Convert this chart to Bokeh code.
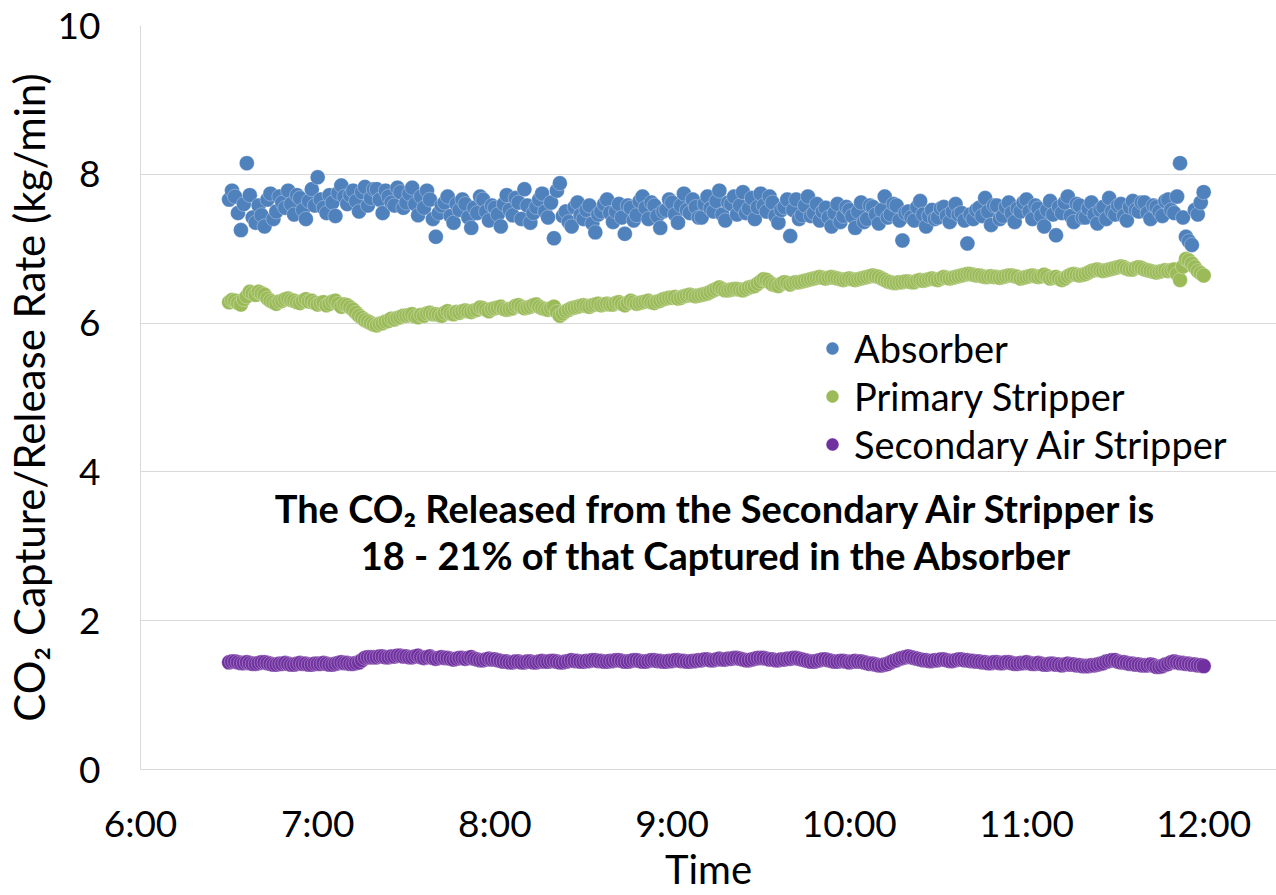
from bokeh.plotting import figure
from bokeh.models import FixedTicker, Label, Legend, LegendItem, ColumnDataSource
from bokeh.embed import file_html
from bokeh.resources import INLINE

# ---------------- data ----------------
start_minute = 6 * 60 + 30      # first sample at 6:30
step_minutes = 1                # one sample per minute, last at 12:00

absorber = [
    7.66, 7.78, 7.70, 7.48, 7.25, 7.60, 8.15, 7.72, 7.42, 7.35,
    7.58, 7.45, 7.30, 7.66, 7.74, 7.40, 7.50, 7.70, 7.62, 7.55,
    7.78, 7.60, 7.46, 7.72, 7.68, 7.52, 7.40, 7.64, 7.80, 7.58,
    7.96, 7.66, 7.55, 7.48, 7.72, 7.62, 7.44, 7.75, 7.85, 7.70,
    7.60, 7.72, 7.78, 7.64, 7.50, 7.76, 7.83, 7.58, 7.68, 7.80,
    7.80, 7.66, 7.48, 7.78, 7.70, 7.62, 7.58, 7.82, 7.76, 7.55,
    7.62, 7.74, 7.82, 7.60, 7.45, 7.70, 7.55, 7.78, 7.66, 7.40,
    7.16, 7.48, 7.58, 7.62, 7.70, 7.44, 7.35, 7.60, 7.52, 7.66,
    7.60, 7.42, 7.28, 7.55, 7.48, 7.70, 7.66, 7.50, 7.38, 7.58,
    7.55, 7.46, 7.30, 7.60, 7.72, 7.52, 7.45, 7.68, 7.62, 7.40,
    7.80, 7.58, 7.35, 7.48, 7.56, 7.66, 7.74, 7.50, 7.42, 7.62,
    7.14, 7.78, 7.88, 7.44, 7.50, 7.36, 7.30, 7.56, 7.62, 7.45,
    7.40, 7.52, 7.58, 7.34, 7.22, 7.46, 7.50, 7.60, 7.66, 7.48,
    7.36, 7.50, 7.60, 7.42, 7.20, 7.58, 7.55, 7.38, 7.45, 7.64,
    7.70, 7.55, 7.40, 7.62, 7.58, 7.44, 7.28, 7.50, 7.52, 7.66,
    7.62, 7.46, 7.35, 7.58, 7.74, 7.52, 7.48, 7.66, 7.56, 7.42,
    7.42, 7.60, 7.70, 7.54, 7.50, 7.64, 7.78, 7.46, 7.38, 7.62,
    7.60, 7.70, 7.46, 7.58, 7.76, 7.48, 7.54, 7.68, 7.40, 7.56,
    7.74, 7.58, 7.50, 7.70, 7.62, 7.44, 7.35, 7.52, 7.56, 7.66,
    7.17, 7.52, 7.66, 7.40, 7.45, 7.58, 7.70, 7.44, 7.48, 7.60,
    7.38, 7.50, 7.55, 7.42, 7.30, 7.48, 7.60, 7.36, 7.44, 7.56,
    7.52, 7.44, 7.28, 7.50, 7.62, 7.36, 7.40, 7.58, 7.56, 7.46,
    7.34, 7.52, 7.70, 7.42, 7.46, 7.60, 7.58, 7.38, 7.11, 7.48,
    7.50, 7.42, 7.38, 7.56, 7.64, 7.46, 7.30, 7.44, 7.52, 7.40,
    7.42, 7.54, 7.56, 7.44, 7.36, 7.50, 7.60, 7.46, 7.48, 7.38,
    7.07, 7.46, 7.40, 7.52, 7.55, 7.44, 7.68, 7.50, 7.32, 7.58,
    7.58, 7.40, 7.44, 7.56, 7.62, 7.48, 7.36, 7.54, 7.50, 7.62,
    7.66, 7.50, 7.40, 7.58, 7.54, 7.44, 7.30, 7.52, 7.64, 7.46,
    7.18, 7.56, 7.48, 7.62, 7.70, 7.44, 7.36, 7.60, 7.58, 7.42,
    7.42, 7.54, 7.62, 7.46, 7.34, 7.52, 7.56, 7.40, 7.68, 7.50,
    7.46, 7.58, 7.60, 7.44, 7.38, 7.56, 7.64, 7.52, 7.50, 7.62,
    7.62, 7.48, 7.40, 7.58, 7.56, 7.50, 7.44, 7.64, 7.66, 7.52,
    7.48, 7.70, 8.15, 7.42, 7.16, 7.10, 7.05, 7.52, 7.46, 7.62,
    7.76,
]

primary_stripper = [
    6.28, 6.31, 6.30, 6.27, 6.25, 6.32, 6.36, 6.42, 6.40, 6.38,
    6.42, 6.40, 6.38, 6.33, 6.30, 6.28, 6.26, 6.29, 6.30, 6.32,
    6.33, 6.31, 6.30, 6.28, 6.27, 6.30, 6.32, 6.29, 6.30, 6.27,
    6.25, 6.27, 6.28, 6.24, 6.26, 6.29, 6.30, 6.26, 6.22, 6.25,
    6.24, 6.21, 6.18, 6.14, 6.10, 6.07, 6.04, 6.02, 6.00, 5.98,
    5.97, 5.99, 6.00, 6.02, 6.03, 6.06, 6.05, 6.07, 6.08, 6.10,
    6.10, 6.11, 6.12, 6.09, 6.08, 6.11, 6.10, 6.13, 6.14, 6.12,
    6.12, 6.11, 6.10, 6.14, 6.16, 6.13, 6.12, 6.15, 6.14, 6.16,
    6.17, 6.16, 6.15, 6.17, 6.18, 6.21, 6.20, 6.18, 6.16, 6.19,
    6.20, 6.21, 6.22, 6.19, 6.18, 6.19, 6.20, 6.23, 6.24, 6.22,
    6.20, 6.21, 6.22, 6.24, 6.25, 6.22, 6.20, 6.19, 6.18, 6.20,
    6.22, 6.15, 6.10, 6.13, 6.16, 6.18, 6.20, 6.21, 6.22, 6.23,
    6.24, 6.23, 6.22, 6.24, 6.25, 6.26, 6.24, 6.25, 6.26, 6.25,
    6.25, 6.27, 6.28, 6.26, 6.24, 6.27, 6.30, 6.28, 6.26, 6.27,
    6.28, 6.29, 6.30, 6.28, 6.27, 6.29, 6.30, 6.32, 6.33, 6.34,
    6.34, 6.35, 6.33, 6.34, 6.36, 6.37, 6.38, 6.37, 6.36, 6.37,
    6.38, 6.39, 6.40, 6.42, 6.44, 6.46, 6.48, 6.46, 6.44, 6.44,
    6.45, 6.46, 6.46, 6.45, 6.44, 6.46, 6.48, 6.49, 6.50, 6.53,
    6.56, 6.59, 6.58, 6.55, 6.52, 6.51, 6.50, 6.53, 6.55, 6.54,
    6.52, 6.54, 6.55, 6.55, 6.56, 6.57, 6.58, 6.59, 6.60, 6.61,
    6.62, 6.61, 6.60, 6.61, 6.62, 6.61, 6.60, 6.59, 6.58, 6.59,
    6.60, 6.59, 6.58, 6.59, 6.60, 6.61, 6.62, 6.63, 6.64, 6.63,
    6.62, 6.60, 6.58, 6.56, 6.55, 6.54, 6.54, 6.55, 6.55, 6.56,
    6.56, 6.55, 6.55, 6.57, 6.58, 6.57, 6.58, 6.59, 6.60, 6.59,
    6.58, 6.60, 6.62, 6.61, 6.60, 6.61, 6.62, 6.63, 6.64, 6.65,
    6.66, 6.66, 6.65, 6.64, 6.64, 6.63, 6.62, 6.62, 6.63, 6.62,
    6.62, 6.61, 6.62, 6.63, 6.64, 6.64, 6.63, 6.62, 6.60, 6.61,
    6.62, 6.63, 6.64, 6.63, 6.62, 6.63, 6.65, 6.63, 6.60, 6.61,
    6.62, 6.60, 6.58, 6.60, 6.63, 6.65, 6.66, 6.65, 6.64, 6.65,
    6.66, 6.68, 6.70, 6.71, 6.72, 6.71, 6.70, 6.71, 6.72, 6.73,
    6.74, 6.75, 6.76, 6.75, 6.73, 6.72, 6.72, 6.74, 6.75, 6.74,
    6.72, 6.71, 6.70, 6.69, 6.68, 6.69, 6.70, 6.71, 6.70, 6.71,
    6.72, 6.66, 6.58, 6.76, 6.86, 6.84, 6.80, 6.75, 6.70, 6.67,
    6.64,
]

secondary_air_stripper = [
    1.44, 1.45, 1.45, 1.44, 1.43, 1.43, 1.44, 1.43, 1.42, 1.42,
    1.43, 1.44, 1.44, 1.43, 1.42, 1.41, 1.41, 1.42, 1.42, 1.43,
    1.42, 1.41, 1.41, 1.42, 1.43, 1.42, 1.42, 1.41, 1.41, 1.42,
    1.42, 1.42, 1.43, 1.42, 1.41, 1.41, 1.42, 1.43, 1.44, 1.43,
    1.43, 1.42, 1.42, 1.43, 1.44, 1.47, 1.50, 1.51, 1.51, 1.51,
    1.51, 1.52, 1.52, 1.51, 1.51, 1.52, 1.52, 1.53, 1.53, 1.52,
    1.52, 1.51, 1.51, 1.52, 1.53, 1.51, 1.50, 1.51, 1.52, 1.50,
    1.49, 1.50, 1.51, 1.50, 1.50, 1.49, 1.48, 1.49, 1.50, 1.50,
    1.49, 1.50, 1.51, 1.49, 1.48, 1.47, 1.47, 1.48, 1.49, 1.48,
    1.48, 1.47, 1.46, 1.45, 1.45, 1.44, 1.44, 1.45, 1.45, 1.44,
    1.44, 1.45, 1.45, 1.44, 1.44, 1.45, 1.46, 1.45, 1.45, 1.46,
    1.46, 1.45, 1.44, 1.44, 1.45, 1.46, 1.47, 1.46, 1.46, 1.45,
    1.45, 1.46, 1.46, 1.47, 1.47, 1.46, 1.46, 1.45, 1.45, 1.46,
    1.46, 1.47, 1.47, 1.46, 1.45, 1.45, 1.46, 1.47, 1.47, 1.46,
    1.45, 1.45, 1.46, 1.47, 1.47, 1.46, 1.46, 1.45, 1.45, 1.46,
    1.46, 1.47, 1.47, 1.46, 1.46, 1.45, 1.45, 1.46, 1.46, 1.47,
    1.47, 1.48, 1.48, 1.47, 1.47, 1.48, 1.49, 1.48, 1.48, 1.49,
    1.49, 1.50, 1.50, 1.49, 1.48, 1.47, 1.47, 1.48, 1.49, 1.50,
    1.50, 1.50, 1.49, 1.48, 1.48, 1.47, 1.47, 1.48, 1.48, 1.49,
    1.49, 1.50, 1.50, 1.49, 1.48, 1.47, 1.46, 1.45, 1.45, 1.46,
    1.47, 1.48, 1.48, 1.47, 1.46, 1.45, 1.45, 1.46, 1.46, 1.45,
    1.44, 1.45, 1.46, 1.45, 1.45, 1.44, 1.43, 1.42, 1.42, 1.41,
    1.40, 1.40, 1.41, 1.42, 1.44, 1.46, 1.47, 1.49, 1.50, 1.51,
    1.52, 1.51, 1.50, 1.49, 1.48, 1.47, 1.47, 1.46, 1.46, 1.47,
    1.47, 1.48, 1.48, 1.47, 1.46, 1.46, 1.47, 1.48, 1.48, 1.47,
    1.47, 1.46, 1.46, 1.45, 1.45, 1.44, 1.44, 1.43, 1.43, 1.44,
    1.44, 1.43, 1.43, 1.44, 1.44, 1.43, 1.42, 1.42, 1.43, 1.43,
    1.44, 1.43, 1.42, 1.42, 1.43, 1.42, 1.41, 1.41, 1.42, 1.42,
    1.41, 1.41, 1.40, 1.41, 1.42, 1.41, 1.41, 1.40, 1.40, 1.39,
    1.39, 1.39, 1.40, 1.40, 1.41, 1.42, 1.43, 1.45, 1.46, 1.47,
    1.47, 1.45, 1.44, 1.44, 1.43, 1.42, 1.42, 1.41, 1.41, 1.40,
    1.40, 1.40, 1.41, 1.40, 1.38, 1.38, 1.39, 1.41, 1.42, 1.44,
    1.45, 1.44, 1.43, 1.43, 1.42, 1.42, 1.41, 1.41, 1.40, 1.40,
    1.39,
]

series_names = ["Absorber", "Primary Stripper", "Secondary Air Stripper"]
x_tick_hours = [6, 7, 8, 9, 10, 11, 12]
x_tick_labels = ["6:00", "7:00", "8:00", "9:00", "10:00", "11:00", "12:00"]
y_ticks = [0, 2, 4, 6, 8, 10]

annotation_lines = [
    "The CO\u2082 Released from the Secondary Air Stripper is",
    "18 - 21% of that Captured in the Absorber",
]

# ---------------- styling ----------------
FONT = "Lato"
COLORS = ["#4F81BD", "#9BBB59", "#7030A0"]
GRID = "#D9D9D9"

times_h = [(start_minute + i * step_minutes) / 60.0 for i in range(len(absorber))]

p = figure(
    width=1276, height=895,
    x_range=(6, 12.411), y_range=(0, 10),
    output_backend="svg", toolbar_location=None,
    min_border_left=138, min_border_right=0, min_border_top=25,
    min_border_bottom=0,
)
p.outline_line_color = None
p.background_fill_color = "white"
p.border_fill_color = "white"

# axes
p.xaxis.ticker = FixedTicker(ticks=x_tick_hours)
p.xaxis.major_label_overrides = {h: l for h, l in zip(x_tick_hours, x_tick_labels)}
p.yaxis.ticker = FixedTicker(ticks=y_ticks)
for ax in (p.xaxis, p.yaxis):
    ax.major_tick_line_color = None
    ax.minor_tick_line_color = None
    ax.axis_line_color = GRID
    ax.axis_line_width = 1
    ax.major_label_text_font = FONT
    ax.major_label_text_font_size = "37px"
    ax.major_label_text_color = "black"
    ax.axis_label_text_font = FONT
    ax.axis_label_text_font_style = "normal"
    ax.axis_label_text_color = "black"
p.xaxis.axis_label_text_font_size = "40px"
p.yaxis.axis_label_text_font_size = "42px"
p.yaxis.major_label_standoff = 34
p.xaxis.major_label_standoff = 24
p.xaxis.axis_label = "Time"
p.xaxis.axis_label_standoff = -3
p.yaxis.axis_label = "CO\u2082 Capture/Release Rate (kg/min)"
p.yaxis.axis_label_standoff = 1

p.xgrid.grid_line_color = None
p.ygrid.ticker = FixedTicker(ticks=[2, 4, 6, 8])
p.ygrid.grid_line_color = GRID
p.ygrid.grid_line_width = 1

# series
renderers = []
for name, vals, col in zip(series_names,
                           [absorber, primary_stripper, secondary_air_stripper],
                           COLORS):
    src = ColumnDataSource(dict(t=times_h, v=vals))
    r = p.scatter("t", "v", source=src, size=15, fill_color=col,
                  line_color="white", line_width=0.6, line_alpha=0.5)
    renderers.append(r)

legend = Legend(
    items=[LegendItem(label=n, renderers=[r]) for n, r in zip(series_names, renderers)],
    location=(676, 302),
    label_text_font=FONT, label_text_font_size="38px", label_text_color="black",
    glyph_width=32, glyph_height=40, label_height=40, label_standoff=6,
    spacing=2, padding=4, margin=0,
    border_line_color=None, background_fill_alpha=1.0,
)
p.add_layout(legend)

for txt, yv in zip(annotation_lines, [3.517, 2.886]):
    p.add_layout(Label(
        x=9.25, y=yv, text=txt, text_align="center", text_baseline="middle",
        text_font=FONT, text_font_size="38px", text_font_style="bold",
        text_color="black",
    ))

open("out.html", "w").write(file_html(p, INLINE))
